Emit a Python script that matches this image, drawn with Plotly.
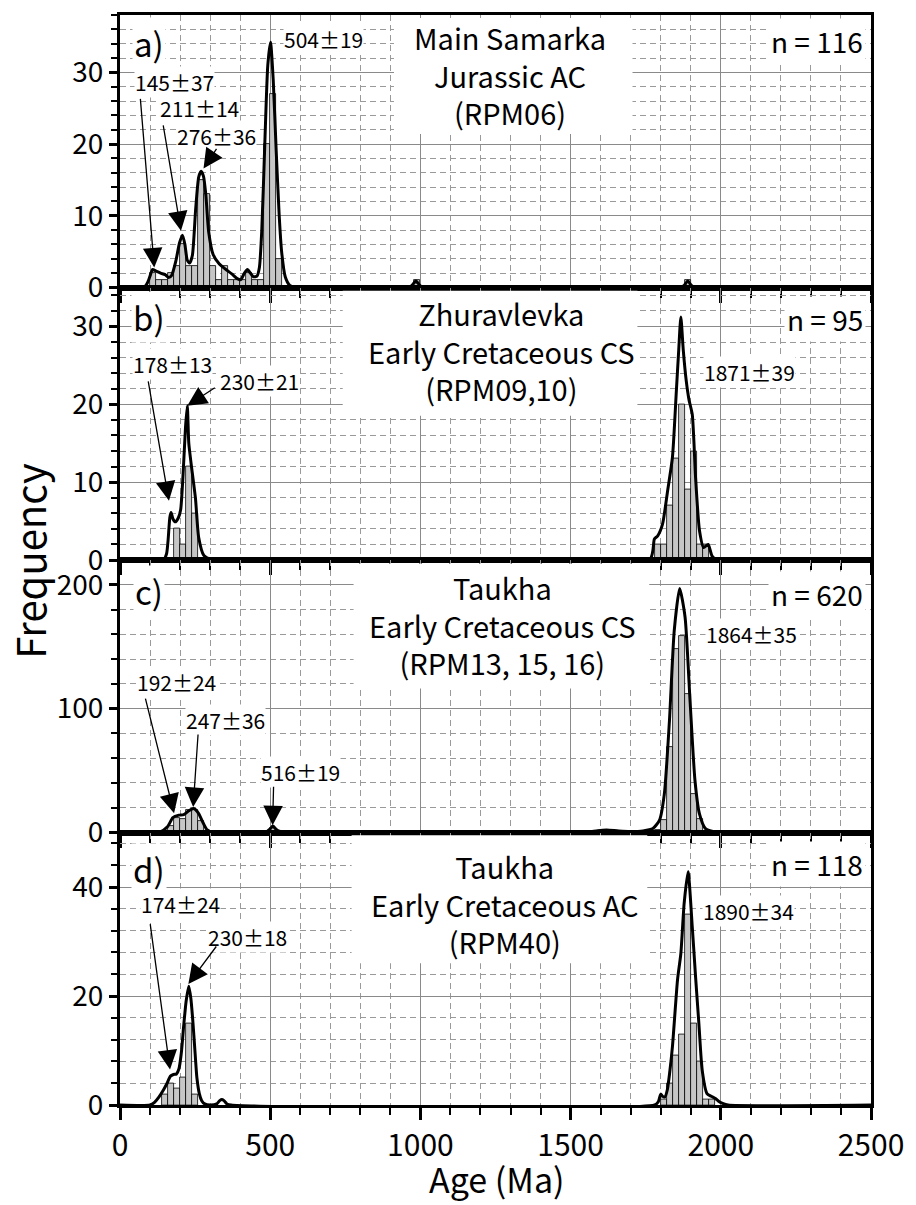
import plotly.graph_objects as go
from plotly.subplots import make_subplots

W, H = 916, 1205
ML, MR, MT, MB = 120, 34, 14, 100
FONT = "Noto Sans CJK JP, Liberation Sans, sans-serif"

# ---------------- data (20 Ma histogram bins: bin start, count) ----------------
a_bins = [100, 120, 140, 160, 180, 200, 220, 240, 260, 280, 300, 320, 340, 360, 380,
          400, 420, 440, 460, 480, 500, 520, 980, 1880]
a_counts = [2, 1, 1, 2, 3, 6, 3, 3, 15, 13, 3, 1, 3, 1, 1, 1, 2, 1, 1, 20, 27, 4, 1, 1]

b_bins = [180, 200, 220, 240, 1780, 1800, 1820, 1840, 1860, 1880, 1900, 1920, 1940]
b_counts = [4, 2, 12, 6, 2, 2, 7, 13, 20, 9, 14, 2, 2]

c_bins = [160, 180, 200, 220, 240, 260, 500, 1780, 1800, 1820, 1840, 1860, 1880, 1900, 1920, 1940]
c_counts = [5, 12, 11, 18, 18, 9, 4, 2, 10, 69, 148, 159, 112, 31, 11, 1]

d_bins = [140, 160, 180, 200, 220, 240, 1800, 1820, 1840, 1860, 1880, 1900, 1920, 1940, 1960]
d_counts = [2, 4, 3, 5, 15, 2, 1, 4, 9, 13, 35, 15, 8, 1, 1]

# ---------------- probability-density curves (age, scaled frequency) ----------------
a_curve_age = [0, 80, 92, 100, 108, 120, 135, 150, 162, 172, 186, 198, 208, 216, 224, 232, 241,
               252, 262, 270, 278, 286, 295, 310, 330, 350, 372, 392, 402, 414, 424, 434, 444,
               456, 464, 472, 482, 492, 501, 510, 520, 530, 538, 550, 565, 585, 960, 972, 985,
               998, 1010, 1865, 1878, 1890, 1902, 1915, 2500]
a_curve_val = [0, 0, 0.7, 1.6, 2.5, 2.3, 2.0, 1.8, 1.4, 1.7, 3.7, 6.2, 7.3, 6.0, 3.8, 3.4, 4.5,
               11, 15.4, 16.2, 15.5, 12.8, 7.8, 4.6, 3.3, 2.6, 1.9, 1.2, 1.1, 2.0, 2.5, 2.0, 1.5,
               1.6, 2.8, 8, 20, 31, 34.2, 29, 19, 10, 5, 1.5, 0.3, 0, 0, 0.3, 0.9,
               0.3, 0, 0, 0.3, 0.9, 0.3, 0, 0]

b_curve_age = [0, 145, 155, 160, 166, 170, 176, 184, 194, 202, 210, 218, 224, 229, 237, 251, 262,
               279, 300, 330, 1763, 1779, 1790, 1806, 1823, 1839, 1852, 1860, 1867, 1875, 1885,
               1894, 1905, 1916, 1929, 1943, 1958, 1971, 1987, 2500]
b_curve_val = [0, 0, 0.8, 2.5, 5.5, 6.1, 5.3, 4.9, 5.4, 6.5, 11, 17, 19.8, 15, 12.3, 8, 2.9,
               0.6, 0.1, 0, 0, 2.7, 3.1, 4.6, 8.9, 13.2, 21.7, 27, 31.2, 27, 23,
               20.6, 18.7, 10.6, 3.8, 1.6, 2.0, 0.5, 0, 0]

c_curve_age = [0, 130, 158, 176, 196, 212, 229, 245, 262, 275, 289, 311, 470, 490, 500, 509, 518,
               530, 550, 575, 1550, 1590, 1620, 1660, 1700, 1741, 1774, 1796, 1812, 1829, 1845,
               1863, 1881, 1897, 1914, 1929, 1949, 1982, 2004, 2500]
c_curve_val = [0, 0, 4.6, 12, 14, 14.5, 17.5, 19.4, 15.3, 8.6, 2.4, 0, 0, 1, 3, 5.2, 3,
               1, 0.2, 0, 0, 1.5, 2, 1.2, 0.8, 1.3, 3.2, 10, 31, 90, 163,
               197, 174, 109, 42, 15, 3.2, 0.5, 0, 0]

d_curve_age = [0, 100, 115, 130, 145, 155, 168, 178, 188, 196, 204, 212, 220, 229, 236, 243, 250,
               256, 264, 272, 282, 300, 322, 332, 339, 346, 356, 370, 1780, 1792, 1800, 1806,
               1814, 1822, 1830, 1839, 1856, 1867, 1878, 1891, 1905, 1916, 1927, 1938, 1954,
               1968, 1982, 1995, 2006, 2024, 2500]
d_curve_val = [0, 0, 0.5, 1.5, 2.8, 3.8, 5.3, 5.6, 5.7, 6.6, 9.5, 14.5, 19, 21.8, 19.5, 15, 9.5,
               5, 2.1, 0.8, 0.2, 0, 0.2, 0.8, 1.0, 0.8, 0.2, 0, 0, 0.6, 2.0, 1.6,
               1.5, 2.8, 6, 10.7, 23, 27.8, 37, 42.8, 32.7, 23.5, 15, 6.4, 2.1,
               1.6, 1.2, 0.6, 0.3, 0, 0]

panels = [
    dict(bins=a_bins, counts=a_counts, cage=a_curve_age, cval=a_curve_val, ymax=38, dmaj=10, dmin=2),
    dict(bins=b_bins, counts=b_counts, cage=b_curve_age, cval=b_curve_val, ymax=35, dmaj=10, dmin=2),
    dict(bins=c_bins, counts=c_counts, cage=c_curve_age, cval=c_curve_val, ymax=220, dmaj=100, dmin=20),
    dict(bins=d_bins, counts=d_counts, cage=d_curve_age, cval=d_curve_val, ymax=50, dmaj=20, dmin=4),
]

panel_letters = ["a)", "b)", "c)", "d)"]
panel_titles = ["Main Samarka<br>Jurassic AC<br>(RPM06)",
                "Zhuravlevka<br>Early Cretaceous CS<br>(RPM09,10)",
                "Taukha<br>Early Cretaceous CS<br>(RPM13, 15, 16)",
                "Taukha<br>Early Cretaceous AC<br>(RPM40)"]
# title block centre (px) and white backing box (left, top, right, bottom) px
title_centres = [(516, 74), (507, 350), (508, 624), (510, 903)]
title_boxes = [(398, 17, 640, 133), (346, 290, 645, 415), (357, 563, 657, 688), (355, 835, 655, 963)]
panel_n = ["n = 116", "n = 95", "n = 620", "n = 118"]

# peak labels: (text, centre x px, centre y px)
peak_labels = [
    [("145±37", 175, 81), ("211±14", 201, 107), ("276±36", 218, 135), ("504±19", 326, 38)],
    [("178±13", 173, 363), ("230±21", 262, 380), ("1871±39", 759, 371)],
    [("192±24", 177, 682), ("247±36", 227, 720), ("516±19", 303, 772), ("1864±35", 761, 634)],
    [("174±24", 181, 904), ("230±18", 249, 937), ("1890±34", 758, 911)],
]
# arrows: (tip age, tip frequency, tail dx px, tail dy px)
arrows = [
    [(114, 2.8, -14, -170), (203, 7.9, -18, -107), (278, 16.6, 14, -21)],
    [(163, 7.6, -21, -121), (224, 19.8, 29, -19)],
    [(180, 15.6, -29, -116), (243.5, 20.6, 5, -74), (508, 5.9, 1, -40)],
    [(166.5, 6.5, -20, -147), (227.6, 22.2, 29, -39)],
]

# ---------------- figure ----------------
fig = make_subplots(rows=4, cols=1, shared_xaxes=True, vertical_spacing=0)

for i, p in enumerate(panels):
    r = i + 1
    fig.add_trace(go.Bar(x=[b + 10 for b in p["bins"]], y=p["counts"], width=20,
                         marker=dict(color="#c6c6c6", line=dict(color="black", width=0.8)),
                         showlegend=False), row=r, col=1)
    fig.add_trace(go.Scatter(x=p["cage"], y=p["cval"], mode="lines",
                             line=dict(color="black", width=3, shape="spline", smoothing=0.6),
                             showlegend=False), row=r, col=1)
    fig.update_yaxes(range=[0, p["ymax"]], dtick=p["dmaj"], tick0=0, ticks="outside",
                     ticklen=8, tickwidth=2.5, tickcolor="black",
                     showgrid=True, gridcolor="#8a8a8a", gridwidth=1,
                     minor=dict(dtick=p["dmin"], tick0=0, ticks="outside", ticklen=6, tickwidth=2,
                                tickcolor="black", showgrid=True, gridcolor="#9a9a9a",
                                griddash="6px,4px", gridwidth=1),
                     showline=True, linewidth=3, linecolor="black", mirror=True, zeroline=False,
                     tickfont=dict(family=FONT, size=28, color="black"),
                     row=r, col=1)
    fig.update_xaxes(range=[0, 2500], dtick=500, tick0=0, ticks="outside", ticklen=12,
                     tickwidth=2.5, tickcolor="black",
                     showgrid=True, gridcolor="#8a8a8a", gridwidth=1,
                     minor=dict(dtick=100, tick0=0, ticks="outside", ticklen=7, tickwidth=2,
                                tickcolor="black", showgrid=True, gridcolor="#9a9a9a",
                                griddash="6px,4px", gridwidth=1),
                     showline=True, linewidth=3, linecolor="black", mirror=True, zeroline=False,
                     showticklabels=(r == 4),
                     tickfont=dict(family=FONT, size=30, color="black"),
                     row=r, col=1)

PW = W - ML - MR
PH = H - MT - MB


def xp(px):
    return (px - ML) / PW


def yp(py):
    return (H - MB - py) / PH


def label(text, cx, cy, size, xanchor="center", bg="rgba(0,0,0,0)", pad=1, angle=0):
    return dict(text=text, x=xp(cx), y=yp(cy), xref="paper", yref="paper",
                xanchor=xanchor, yanchor="middle", showarrow=False,
                bgcolor=bg, borderpad=pad, textangle=angle,
                font=dict(family=FONT, size=size, color="black"))


box_layer, arrow_layer, text_layer = [], [], []

letter_y = [42, 316, 591, 869]
n_y = [40, 318, 594, 864]
for i in range(4):
    l, t, rgt, b = title_boxes[i]
    fig.add_shape(type="rect", xref="paper", yref="paper", x0=xp(l), x1=xp(rgt),
                  y0=yp(b), y1=yp(t), fillcolor="white", line=dict(width=0), layer="above")
    text_layer.append(label(panel_letters[i], 149, letter_y[i], 33, bg="white"))
    cx, cy = title_centres[i]
    text_layer.append(label(panel_titles[i], cx, cy, 29))
    text_layer.append(label(panel_n[i], 877, n_y[i], 28, xanchor="right", bg="white", pad=2))
    for txt, lx, ly in peak_labels[i]:
        box_layer.append(label(txt, lx, ly, 21, bg="white", pad=0))
    xr = "x" if i == 0 else "x%d" % (i + 1)
    yr = "y" if i == 0 else "y%d" % (i + 1)
    for age, val, dx, dy in arrows[i]:
        arrow_layer.append(dict(text="", x=age, y=val, xref=xr, yref=yr, ax=dx, ay=dy,
                                showarrow=True, arrowhead=2, arrowsize=3, arrowwidth=1.3,
                                arrowcolor="black", standoff=0))

text_layer.append(label("Frequency", 28, 560, 40, angle=-90))
text_layer.append(label("Age (Ma)", 503, 1179, 34))

fig.update_layout(width=W, height=H, margin=dict(l=ML, r=MR, t=MT, b=MB),
                  plot_bgcolor="white", paper_bgcolor="white", bargap=0,
                  annotations=box_layer + arrow_layer + text_layer, showlegend=False,
                  font=dict(family=FONT, color="black"))

fig.write_html("out.html")
